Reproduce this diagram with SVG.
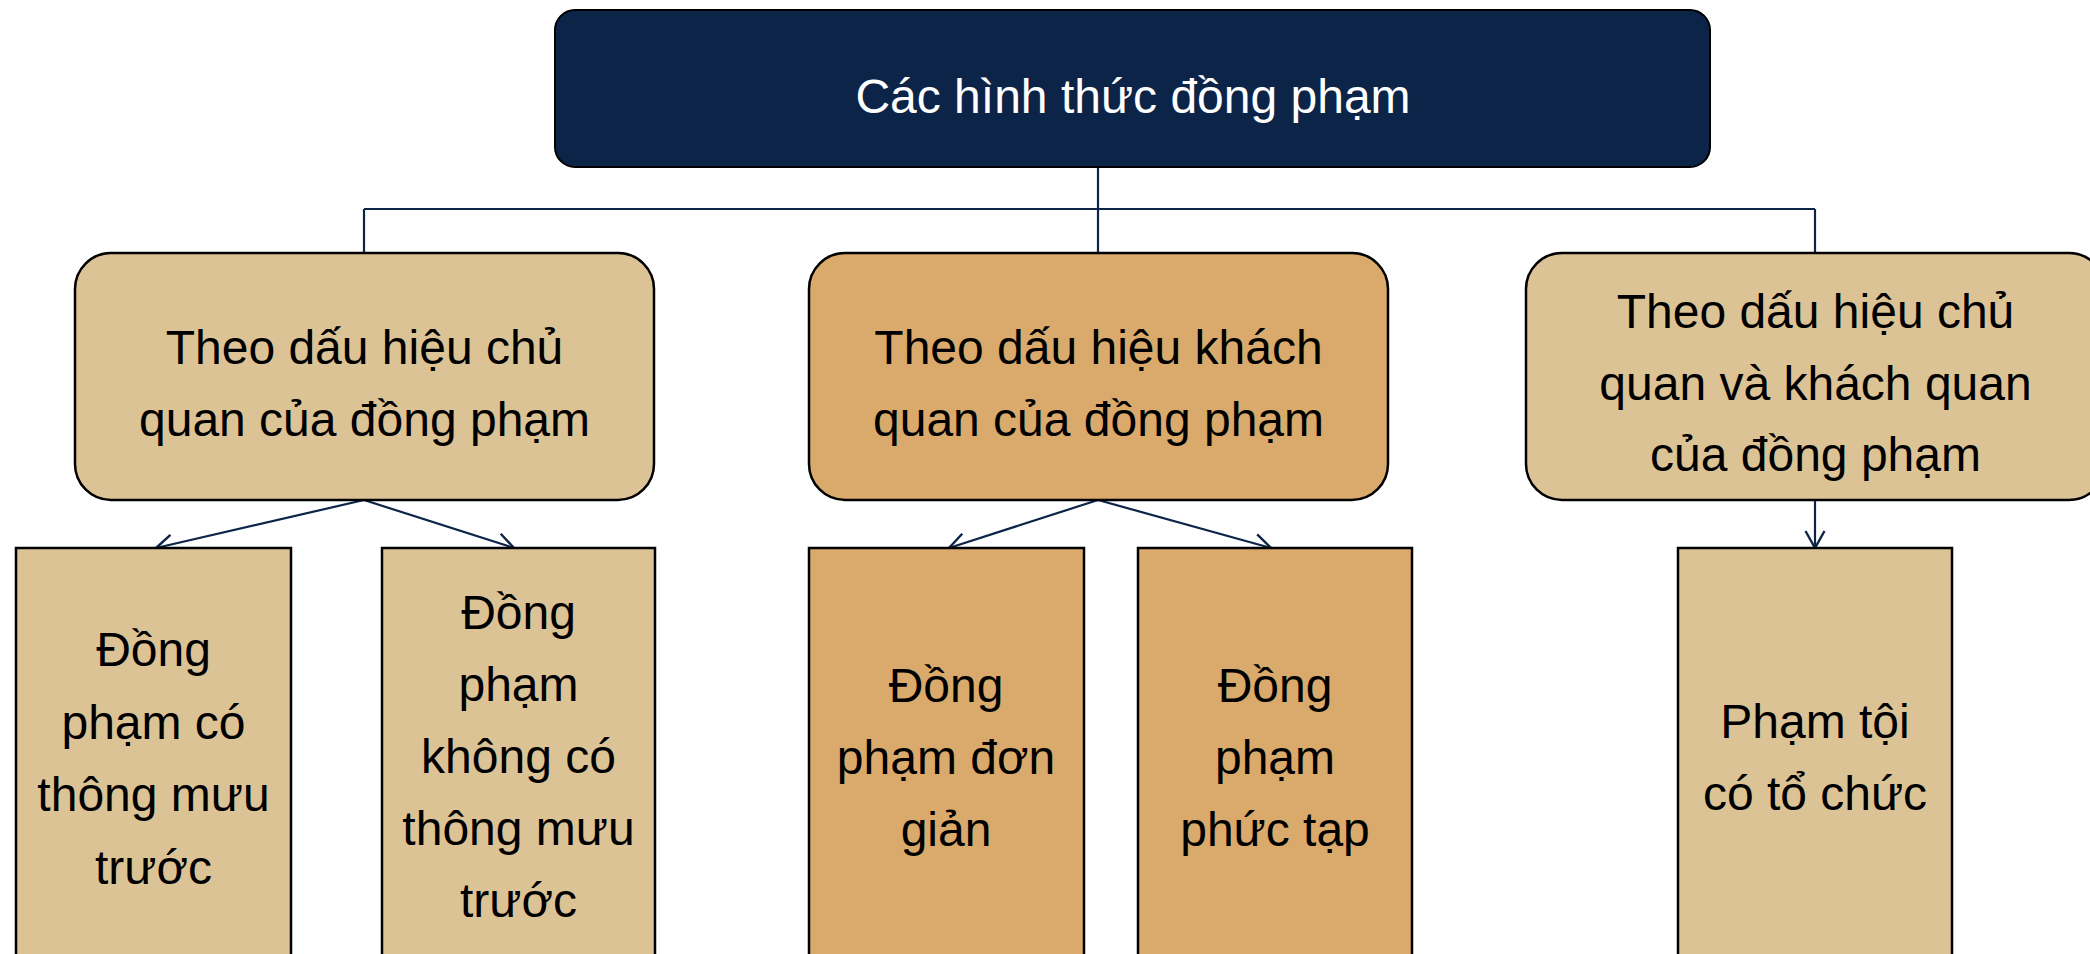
<svg xmlns="http://www.w3.org/2000/svg" width="2090" height="954" viewBox="0 0 2090 954">
<style>
  text { font-family: "Liberation Sans", Arial, sans-serif; font-size: 48px; text-anchor: middle; fill: #000; }
  .title { fill: #ffffff; }
  .tan { fill: #dcc396; stroke: #000; stroke-width: 2.5; }
  .org { fill: #d9aa6b; stroke: #000; stroke-width: 2.5; }
  .conn { stroke: #0c2448; stroke-width: 2.2; fill: none; }
</style>
<defs>
  <marker id="arr" viewBox="0 0 22 22" refX="19" refY="11" markerWidth="22" markerHeight="22" markerUnits="userSpaceOnUse" orient="auto">
    <path d="M2,1.5 L19,11 L2,20.5" fill="none" stroke="#0c2448" stroke-width="2.4"/>
  </marker>
</defs>
<rect width="2090" height="954" fill="#ffffff"/>

<g id="connectors">
  <line class="conn" x1="1098" y1="167" x2="1098" y2="253"/>
  <line class="conn" x1="364" y1="209" x2="1815" y2="209"/>
  <line class="conn" x1="364" y1="209" x2="364" y2="253"/>
  <line class="conn" x1="1815" y1="209" x2="1815" y2="253"/>
  <line class="conn" x1="364" y1="500" x2="156" y2="548" marker-end="url(#arr)"/>
  <line class="conn" x1="364" y1="500" x2="514" y2="548" marker-end="url(#arr)"/>
  <line class="conn" x1="1098" y1="500" x2="949" y2="548" marker-end="url(#arr)"/>
  <line class="conn" x1="1098" y1="500" x2="1271" y2="548" marker-end="url(#arr)"/>
  <line class="conn" x1="1815" y1="500" x2="1815" y2="548" marker-end="url(#arr)"/>
</g>

<g id="root">
  <rect x="555" y="10" width="1155" height="157" rx="20" fill="#0c2448" stroke="#000" stroke-width="2"/>
  <text class="title" x="1133" y="113">Các hình thức đồng phạm</text>
</g>

<g id="subjective">
  <rect class="tan" x="75" y="253" width="579" height="247" rx="36"/>
  <text x="364.5" y="364"><tspan x="364.5">Theo dấu hiệu chủ</tspan><tspan x="364.5" dy="72">quan của đồng phạm</tspan></text>
</g>

<g id="objective">
  <rect class="org" x="809" y="253" width="579" height="247" rx="36"/>
  <text x="1098.5" y="364"><tspan x="1098.5">Theo dấu hiệu khách</tspan><tspan x="1098.5" dy="72">quan của đồng phạm</tspan></text>
</g>

<g id="both">
  <rect class="tan" x="1526" y="253" width="579" height="247" rx="36"/>
  <text x="1815.5" y="328"><tspan x="1815.5">Theo dấu hiệu chủ</tspan><tspan x="1815.5" dy="71.5">quan và khách quan</tspan><tspan x="1815.5" dy="71.5">của đồng phạm</tspan></text>
</g>

<g id="prior">
  <rect class="tan" x="16" y="548" width="275" height="418"/>
  <text x="153.5" y="666"><tspan x="153.5">Đồng</tspan><tspan x="153.5" dy="72.5">phạm có</tspan><tspan x="153.5" dy="72.5">thông mưu</tspan><tspan x="153.5" dy="72.5">trước</tspan></text>
</g>

<g id="noprior">
  <rect class="tan" x="382" y="548" width="273" height="418"/>
  <text x="518.5" y="629"><tspan x="518.5">Đồng</tspan><tspan x="518.5" dy="72">phạm</tspan><tspan x="518.5" dy="72">không có</tspan><tspan x="518.5" dy="72">thông mưu</tspan><tspan x="518.5" dy="72">trước</tspan></text>
</g>

<g id="simple">
  <rect class="org" x="809" y="548" width="275" height="418"/>
  <text x="946" y="702"><tspan x="946">Đồng</tspan><tspan x="946" dy="72">phạm đơn</tspan><tspan x="946" dy="72">giản</tspan></text>
</g>

<g id="complex">
  <rect class="org" x="1138" y="548" width="274" height="418"/>
  <text x="1275" y="702"><tspan x="1275">Đồng</tspan><tspan x="1275" dy="72">phạm</tspan><tspan x="1275" dy="72">phức tạp</tspan></text>
</g>

<g id="organized">
  <rect class="tan" x="1678" y="548" width="274" height="418"/>
  <text x="1815" y="738"><tspan x="1815">Phạm tội</tspan><tspan x="1815" dy="72">có tổ chức</tspan></text>
</g>
</svg>
